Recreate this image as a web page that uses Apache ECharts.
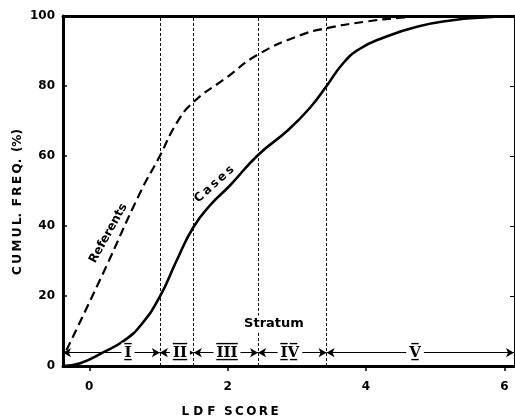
<!DOCTYPE html>
<html>
<head>
<meta charset="utf-8">
<script src="https://cdn.jsdelivr.net/npm/echarts@6/dist/echarts.min.js"></script>
<style>
html,body{margin:0;padding:0;background:#fff;}
#c{width:515px;height:419px;}
</style>
</head>
<body>
<div id="c"></div>
<script>
// ---- data ----
const xTicks = [0, 2, 4, 6];
const yTicks = [0, 20, 40, 60, 80, 100];
const referentsX = [-0.33, 0.2, 0.73, 1.02, 1.26, 1.5, 1.97, 2.44, 3.05, 3.43, 4.0, 4.5, 5.0, 6.14];
const referentsY = [4.5, 26.5, 49.3, 60, 69.3, 75.3, 82.2, 89, 94.5, 96.5, 98.4, 99.5, 100, 100];
const casesX = [-0.38, -0.13, 0.2, 0.5, 0.75, 1.02, 1.26, 1.5, 1.75, 2.03, 2.44, 2.88, 3.2, 3.43, 3.67, 3.9, 4.25, 4.75, 5.25, 5.7, 6.14];
const casesY = [0, 0.8, 3.9, 7.2, 11.8, 19.8, 30, 39.5, 46, 51.5, 60.3, 67.5, 74, 80, 86.5, 90.5, 93.8, 97, 98.8, 99.6, 100];
const strataBounds = [1.02, 1.51, 2.44, 3.43];
const strataNames = ['I', 'II', 'III', 'IV', 'V'];
const strataLabelX = [0.56, 1.31, 1.99, 2.9, 4.71];
const strataLevel = 3.8;
const xRange = [-0.38, 6.14];

const zip = (a, b) => a.map((v, i) => [v, b[i]]);
const FONT = 'DejaVu Sans';
// numeral drawn with a bar above and below (combining overline + low line)
const barred = s => s.split('').map(ch => ch + '\u0305\u0332').join('');

const edges = [xRange[0]].concat(strataBounds, [xRange[1]]);
const arrowSegs = [];
for (let i = 0; i < edges.length - 1; i++) {
  arrowSegs.push([{ coord: [edges[i], strataLevel] }, { coord: [edges[i + 1], strataLevel] }]);
}

const textPoints = [
  { name: 'Referents', coord: [0.275, 37.9], label: { rotate: 61, fontSize: 12 } },
  { name: 'C\u2009a\u2009s\u2009e\u2009s', coord: [1.806, 51.9], label: { rotate: 42, fontSize: 12 } },
  { name: 'Stratum', coord: [2.67, 12], label: { fontSize: 13, backgroundColor: '#fff', padding: [2, 1] } }
].concat(strataNames.map((n, i) => ({
  name: barred(n), coord: [strataLabelX[i], strataLevel],
  label: { fontFamily: 'DejaVu Serif', fontSize: 15, backgroundColor: '#fff', padding: [0, 3], lineHeight: 20 }
})));

const chart = echarts.init(document.getElementById('c'), null, { renderer: 'canvas' });
chart.setOption({
  animation: false,
  backgroundColor: '#fff',
  grid: { left: 63, right: 1, top: 16, bottom: 53, containLabel: false },
  xAxis: [{
    type: 'value', min: xRange[0], max: xRange[1], position: 'bottom',
    axisLine: { show: true, onZero: false, lineStyle: { color: '#000', width: 3 } },
    axisTick: { show: true, inside: false, length: 5, customValues: xTicks, lineStyle: { color: '#000', width: 1.5 } },
    axisLabel: { customValues: xTicks, margin: 15, color: '#000', fontFamily: FONT, fontWeight: 'bold', fontSize: 12 },
    splitLine: { show: false }
  }, {
    type: 'value', min: xRange[0], max: xRange[1], position: 'top',
    axisLine: { show: true, onZero: false, lineStyle: { color: '#000', width: 3 } },
    axisTick: { show: false }, axisLabel: { show: false }, splitLine: { show: false }
  }],
  yAxis: [{
    type: 'value', min: 0, max: 100, interval: 20, position: 'left',
    axisLine: { show: true, onZero: false, lineStyle: { color: '#000', width: 3 } },
    axisTick: { show: true, inside: true, length: 4, lineStyle: { color: '#000', width: 1.5 } },
    axisLabel: { margin: 8, color: '#000', fontFamily: FONT, fontWeight: 'bold', fontSize: 12 },
    splitLine: { show: false }
  }, {
    type: 'value', min: 0, max: 100, interval: 20, position: 'right',
    axisLine: { show: true, onZero: false, lineStyle: { color: '#000', width: 1 } },
    axisTick: { show: true, inside: true, length: 4, lineStyle: { color: '#000', width: 1 } },
    axisLabel: { show: false }, splitLine: { show: false }
  }],
  series: [{
    name: 'Referents', type: 'line', data: zip(referentsX, referentsY),
    showSymbol: false, smooth: 0.5, silent: true,
    lineStyle: { color: '#000', width: 2.2, type: [9, 5] },
    markLine: {
      silent: true, z: 4, symbol: ['arrow', 'arrow'], symbolSize: [7, 8],
      label: { show: false },
      lineStyle: { color: '#000', width: 1, type: 'solid' },
      itemStyle: { color: '#000' },
      data: arrowSegs
    },
    z: 3
  }, {
    name: 'Cases', type: 'line', data: zip(casesX, casesY),
    showSymbol: false, smooth: 0.5, silent: true,
    lineStyle: { color: '#000', width: 2.6 },
    markLine: {
      silent: true, z: 1, symbol: ['none', 'none'],
      label: { show: false },
      lineStyle: { color: '#111', width: 1, type: [3, 2] },
      data: strataBounds.map(v => ({ xAxis: v }))
    },
    markPoint: {
      silent: true, z: 10, symbol: 'circle', symbolSize: 1,
      itemStyle: { color: 'rgba(0,0,0,0)' },
      label: { show: true, position: 'inside', formatter: '{b}', color: '#000', fontFamily: FONT, fontWeight: 'bold' },
      data: textPoints
    },
    z: 3
  }],
  graphic: [{
    type: 'text', x: 18, y: 202, rotation: Math.PI / 2,
    style: { text: 'C\u2009U\u2009M\u2009U\u2009L.\u2009 F\u2009R\u2009E\u2009Q.\u2009 (%)', font: 'bold 12px "DejaVu Sans"', fill: '#000', textAlign: 'center', textVerticalAlign: 'middle' }
  }, {
    type: 'text', x: 230, y: 412,
    style: { text: 'L D F  S\u2009C\u2009O\u2009R\u2009E', font: 'bold 12px "DejaVu Sans"', fill: '#000', textAlign: 'center', textVerticalAlign: 'middle' }
  }]
});
</script>
</body>
</html>
